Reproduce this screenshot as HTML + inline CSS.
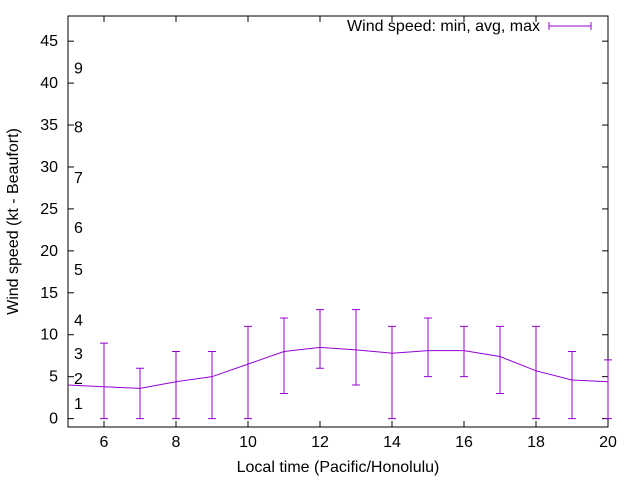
<!DOCTYPE html>
<html><head><meta charset="utf-8"><style>
body{margin:0;background:#fff}
text{font-family:"Liberation Sans",sans-serif;font-size:16px;fill:#000}
</style></head><body>
<svg id="chart" width="640" height="480" xmlns="http://www.w3.org/2000/svg">
<g id="g"></g>
</svg>
<script>
const hours=[5,6,7,8,9,10,11,12,13,14,15,16,17,18,19,20];
const avgWind=[4,3.8,3.6,4.4,5,6.5,8,8.5,8.2,7.8,8.1,8.1,7.4,5.7,4.6,4.4];
const minWind=[4,0,0,0,0,0,3,6,4,0,5,5,3,0,0,0];
const maxWind=[4,9,6,8,8,11,12,13,13,11,12,11,11,11,8,7];
const xTicks=[6,8,10,12,14,16,18,20];
const yTicks=[0,5,10,15,20,25,30,35,40,45];
const beaufortLevels=[1,2,3,4,5,6,7,8,9];
const beaufortKt=[1,4,7,11,17,22,28,34,41];

const L=68,R=608,T=16,B=427;
const x=v=>L+(v-5)/(20-5)*(R-L);
const y=v=>B-(v+1)/(48+1)*(B-T);
const g=document.getElementById('g');
const NS='http://www.w3.org/2000/svg';
function mk(tag,attrs,parent){const e=document.createElementNS(NS,tag);for(const k in attrs)e.setAttribute(k,attrs[k]);(parent||g).appendChild(e);return e;}

const frame=mk('rect',{x:L,y:T,width:R-L,height:B-T,fill:'none',stroke:'#000','stroke-width':1});



yTicks.forEach(v=>{
  const t=mk('line',{x1:L,x2:L+6,y1:y(v),y2:y(v),stroke:'#000'});
  
  
  const t2=mk('line',{x1:R-6,x2:R,y1:y(v),y2:y(v),stroke:'#000'});
  
  
  const l=mk('text',{x:L-10,y:y(v)+5,'text-anchor':'end'});l.textContent=v;
  
  
});
xTicks.forEach(v=>{
  const t=mk('line',{x1:x(v),x2:x(v),y1:B,y2:B-6,stroke:'#000'});
  
  
  const t2=mk('line',{x1:x(v),x2:x(v),y1:T,y2:T+6,stroke:'#000'});
  
  
  const l=mk('text',{x:x(v),y:B+20,'text-anchor':'middle'});l.textContent=v;
  
  
});
beaufortLevels.forEach((b,i)=>{
  const l=mk('text',{x:74,y:y(beaufortKt[i])-1});l.textContent=b;
  
  
});

const pts=hours.map((h,i)=>x(h)+','+y(avgWind[i])).join(' ');
const line=mk('polyline',{points:pts,fill:'none',stroke:'#9400d3','stroke-width':1});


hours.forEach((h,i)=>{
  if(maxWind[i]===minWind[i])return;
  const bar=mk('path',{d:`M${x(h)},${y(minWind[i])}V${y(maxWind[i])}M${x(h)-4},${y(minWind[i])}h8M${x(h)-4},${y(maxWind[i])}h8`,stroke:'#9400d3','stroke-width':1,fill:'none'});
  
  
});

const lg=mk('text',{x:540,y:31,'text-anchor':'end'});lg.textContent='Wind speed: min, avg, max';


const ls=mk('path',{d:'M549,26H591M549,22V30M591,22V30',stroke:'#9400d3',fill:'none'});



const xt=mk('text',{x:338,y:472,'text-anchor':'middle'});xt.textContent='Local time (Pacific/Honolulu)';


const yt=mk('text',{x:0,y:0,'text-anchor':'middle',transform:`translate(18,${(T+B)/2}) rotate(-90)`});yt.textContent='Wind speed (kt - Beaufort)';


</script>
</body></html>
